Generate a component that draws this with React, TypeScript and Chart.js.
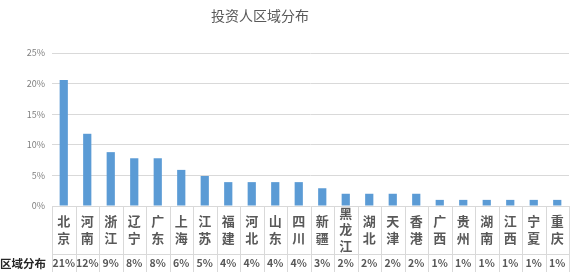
import React, { useEffect, useRef } from "react";
import { Chart, registerables } from "chart.js";

Chart.register(...registerables);

const TITLE = "投资人区域分布";
const ROW_LABEL = "区域分布";
const categories = ["北京", "河南", "浙江", "辽宁", "广东", "上海", "江苏", "福建", "河北", "山东", "四川", "新疆", "黑龙江", "湖北", "天津", "香港", "广西", "贵州", "湖南", "江西", "宁夏", "重庆"];
const shares = [20.6, 11.8, 8.8, 7.8, 7.8, 5.9, 4.9, 3.9, 3.9, 3.9, 3.9, 2.9, 2.0, 2.0, 2.0, 2.0, 1.0, 1.0, 1.0, 1.0, 1.0, 1.0];
const tableLabels = ["21%", "12%", "9%", "8%", "8%", "6%", "5%", "4%", "4%", "4%", "4%", "3%", "2%", "2%", "2%", "2%", "1%", "1%", "1%", "1%", "1%", "1%"];
const yTicks = [0, 5, 10, 15, 20, 25];

const FONT = '"Noto Sans CJK SC", "Noto Sans", sans-serif';

const tablePlugin = {
  id: "dataTable",
  afterDraw(chart: any) {
    const ctx = chart.ctx as CanvasRenderingContext2D;
    const xs = chart.scales.x;
    const area = chart.chartArea;
    const n = categories.length;
    const step = (area.right - area.left) / n;
    const top = area.bottom;
    const rowSplit = 254.5;
    const bottom = 272;
    ctx.save();
    // title
    ctx.fillStyle = "#595959";
    ctx.font = `14px ${FONT}`;
    ctx.textAlign = "center";
    ctx.textBaseline = "middle";
    ctx.fillText(TITLE, 260, 16);

    ctx.strokeStyle = "#d9d9d9";
    ctx.lineWidth = 1;
    for (let i = 0; i <= n; i++) {
      const x = Math.round(area.left + i * step) + 0.5;
      ctx.beginPath();
      ctx.moveTo(x, top);
      ctx.lineTo(x, bottom);
      ctx.stroke();
    }
    ctx.beginPath();
    ctx.moveTo(area.left, rowSplit);
    ctx.lineTo(area.right, rowSplit);
    ctx.stroke();

    ctx.fillStyle = "#595959";
    ctx.font = `bold 13px ${FONT}`;
    const midY = 229.5;
    const lh = 16.3;
    categories.forEach((c, i) => {
      const cx = xs.getPixelForValue(i);
      const chars = Array.from(c);
      const start = midY - ((chars.length - 1) * lh) / 2;
      chars.forEach((ch, j) => ctx.fillText(ch, cx, start + j * lh));
    });
    ctx.font = `bold 10.5px ${FONT}`;
    tableLabels.forEach((t, i) => {
      ctx.fillText(t, xs.getPixelForValue(i), 263.5);
    });
    ctx.fillStyle = "#262626";
    ctx.font = `bold 11.5px ${FONT}`;
    ctx.textAlign = "left";
    ctx.fillText(ROW_LABEL, 0, 263.5);
    ctx.restore();
  },
};

export default function App() {
  const ref = useRef<HTMLCanvasElement | null>(null);
  useEffect(() => {
    document.body.style.margin = "0";
    const chart = new Chart(ref.current as HTMLCanvasElement, {
      type: "bar",
      data: {
        labels: categories,
        datasets: [
          {
            data: shares,
            backgroundColor: "#5b9bd5",
            categoryPercentage: 1,
            barPercentage: 0.35,
          },
        ],
      },
      options: {
        animation: false,
        responsive: false,
        layout: { padding: { top: 53, right: 3, bottom: 72, left: 0 } },
        plugins: { legend: { display: false }, tooltip: { enabled: false }, title: { display: false } },
        scales: {
          x: { display: false, offset: true },
          y: {
            min: 0,
            max: 25,
            afterFit: (s: any) => {
              s.width = 52;
            },
            afterBuildTicks: (s: any) => {
              s.ticks = yTicks.map((v) => ({ value: v }));
            },
            border: { display: false },
            grid: { color: "#d9d9d9", drawTicks: false },
            ticks: {
              padding: 7,
              color: "#7f7f7f",
              font: { size: 9, family: FONT },
              callback: (v: any) => `${v}%`,
            },
          },
        },
      },
      plugins: [tablePlugin],
    });
    return () => chart.destroy();
  }, []);
  return <canvas ref={ref} width={572} height={278} style={{ display: "block" }} />;
}
